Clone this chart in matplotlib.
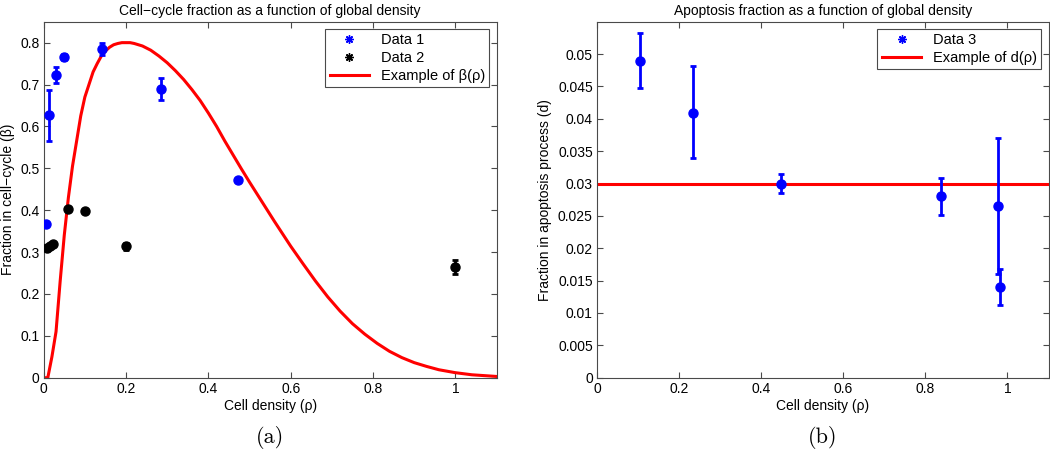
import numpy as np
import matplotlib
matplotlib.use('Agg')
import matplotlib.pyplot as plt
from matplotlib.lines import Line2D

plt.rcParams['font.family'] = ['Liberation Sans', 'DejaVu Sans']
plt.rcParams['font.size'] = 10

# Panel (a): cell-cycle fraction data
d1_rho = [0.0056, 0.0137, 0.030, 0.0486, 0.142, 0.284, 0.473]
d1_beta = [0.366, 0.627, 0.722, 0.766, 0.785, 0.689, 0.473]
d1_err = [0.0, 0.061, 0.019, 0.008, 0.015, 0.027, 0.005]

d2_rho = [0.008, 0.015, 0.022, 0.060, 0.100, 0.199, 1.0]
d2_beta = [0.310, 0.315, 0.320, 0.404, 0.398, 0.314, 0.265]
d2_err = [0.003, 0.003, 0.003, 0.003, 0.002, 0.008, 0.017]

# Example beta(rho) curve
beta_rho = [0.0, 0.01, 0.02, 0.03, 0.04, 0.05, 0.06, 0.07, 0.08, 0.09, 0.10,
            0.11, 0.12, 0.13, 0.14, 0.15, 0.16, 0.17, 0.18, 0.19, 0.20, 0.21,
            0.22, 0.24, 0.26, 0.28, 0.30, 0.32, 0.34, 0.36, 0.38, 0.40, 0.42,
            0.44, 0.46, 0.48, 0.50, 0.52, 0.54, 0.56, 0.58, 0.60, 0.63, 0.66,
            0.69, 0.72, 0.75, 0.78, 0.81, 0.84, 0.87, 0.90, 0.93, 0.96, 1.00,
            1.04, 1.07, 1.10]
beta_val = [0.0, 0.0, 0.05, 0.11, 0.23, 0.34, 0.43, 0.505, 0.565, 0.625, 0.67,
            0.70, 0.73, 0.75, 0.768, 0.78, 0.789, 0.795, 0.798, 0.80, 0.80, 0.80,
            0.798, 0.792, 0.782, 0.768, 0.752, 0.733, 0.712, 0.688, 0.662, 0.632, 0.600,
            0.565, 0.532, 0.499, 0.467, 0.436, 0.405, 0.374, 0.344, 0.314, 0.272, 0.231,
            0.193, 0.159, 0.129, 0.104, 0.082, 0.063, 0.048, 0.036, 0.027, 0.019, 0.012,
            0.007, 0.005, 0.003]

# Panel (b): apoptosis fraction data
d3_rho = [0.1054, 0.235, 0.448, 0.837, 0.976, 0.982]
d3_d = [0.0490, 0.0409, 0.0300, 0.0280, 0.0265, 0.0140]
d3_lo = [0.00425, 0.0070, 0.0014, 0.0028, 0.0105, 0.0028]
d3_hi = [0.00425, 0.0072, 0.0014, 0.0028, 0.0106, 0.00275]
d_const = 0.03

blue = '#0000ff'
red = '#ff0000'
axcol = '#4a4a4a'

fig = plt.figure(figsize=(10.5, 4.58), dpi=100)
ax1 = fig.add_axes([0.0416, 0.1753, 0.4313, 0.7773])
ax2 = fig.add_axes([0.5686, 0.1753, 0.4300, 0.7773])


def style(ax):
    for s in ax.spines.values():
        s.set_color(axcol)
        s.set_linewidth(0.8)
    ax.tick_params(direction='in', top=True, right=True, length=4,
                   color=axcol, labelsize=10, pad=3)


# ---- (a)
ax1.errorbar(d1_rho, d1_beta, yerr=d1_err, fmt='o', color=blue, ms=6.5,
             elinewidth=2, capsize=2.5, capthick=2, zorder=3)
ax1.errorbar(d2_rho, d2_beta, yerr=d2_err, fmt='o', color='black', ms=6.5,
             elinewidth=2, capsize=2.5, capthick=2, zorder=3)
ax1.plot(beta_rho, beta_val, color=red, lw=2.2, zorder=2)
ax1.set_xlim(0, 1.1)
ax1.set_ylim(0, 0.85)
ax1.set_xticks([0, 0.2, 0.4, 0.6, 0.8, 1.0])
ax1.set_xticklabels(['0', '0.2', '0.4', '0.6', '0.8', '1'])
ax1.set_yticks(np.arange(0, 0.81, 0.1))
ax1.set_yticklabels(['0', '0.1', '0.2', '0.3', '0.4', '0.5', '0.6', '0.7', '0.8'])
ax1.set_xlabel('Cell density (\u03c1)', labelpad=2)
ax1.set_ylabel('Fraction in cell\u2212cycle (\u03b2)', labelpad=4)
ax1.set_title('Cell\u2212cycle fraction as a function of global density', fontsize=10, pad=5)
style(ax1)
h1 = [Line2D([], [], ls='none', marker=(8, 2, 0), color=blue, ms=6, mew=1),
      Line2D([], [], ls='none', marker=(8, 2, 0), color='black', ms=6, mew=1),
      Line2D([], [], color=red, lw=2.2)]
leg1 = ax1.legend(h1, ['Data 1', 'Data 2', 'Example of \u03b2(\u03c1)'], loc='upper right',
                  fancybox=False, edgecolor=axcol, framealpha=1, borderaxespad=0.5,
                  handlelength=2.7, labelspacing=0.25, borderpad=0.3, fontsize=10.5)
leg1.get_frame().set_linewidth(0.8)

# ---- (b)
ax2.axhline(d_const, color=red, lw=2.2, zorder=2)
ax2.errorbar(d3_rho, d3_d, yerr=[d3_lo, d3_hi], fmt='o', color=blue, ms=6.5,
             elinewidth=2, capsize=2.5, capthick=2, zorder=3)
ax2.set_xlim(0, 1.1)
ax2.set_ylim(0, 0.055)
ax2.set_xticks([0, 0.2, 0.4, 0.6, 0.8, 1.0])
ax2.set_xticklabels(['0', '0.2', '0.4', '0.6', '0.8', '1'])
yt = [0, 0.005, 0.01, 0.015, 0.02, 0.025, 0.03, 0.035, 0.04, 0.045, 0.05]
ax2.set_yticks(yt)
ax2.set_yticklabels(['0', '0.005', '0.01', '0.015', '0.02', '0.025', '0.03',
                     '0.035', '0.04', '0.045', '0.05'])
ax2.set_xlabel('Cell density (\u03c1)', labelpad=2)
ax2.set_ylabel('Fraction in apoptosis process (d)', labelpad=4)
ax2.set_title('Apoptosis fraction as a function of global density', fontsize=10, pad=5)
style(ax2)
h2 = [Line2D([], [], ls='none', marker=(8, 2, 0), color=blue, ms=6, mew=1),
      Line2D([], [], color=red, lw=2.2)]
leg2 = ax2.legend(h2, ['Data 3', 'Example of d(\u03c1)'], loc='upper right',
                  fancybox=False, edgecolor=axcol, framealpha=1, borderaxespad=0.5,
                  handlelength=2.7, labelspacing=0.25, borderpad=0.3, fontsize=10.5)
leg2.get_frame().set_linewidth(0.8)

fig.text(0.2572, 0.045, '(a)', ha='center', va='center', fontsize=16, family='cmr10')
fig.text(0.7836, 0.045, '(b)', ha='center', va='center', fontsize=16, family='cmr10')

fig.savefig('out.png', dpi=100)
